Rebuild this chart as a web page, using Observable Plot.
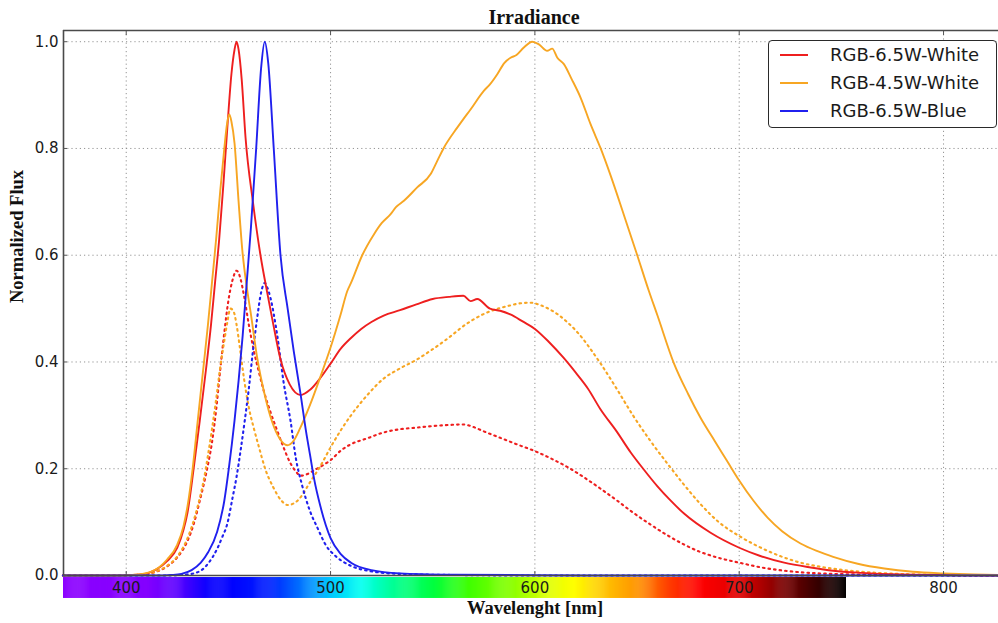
<!DOCTYPE html>
<html>
<head>
<meta charset="utf-8">
<script src="https://cdn.jsdelivr.net/npm/d3@7"></script>
<script src="https://cdn.jsdelivr.net/npm/@observablehq/plot@0.6"></script>
<style>
  body { margin: 0; background: #fff; }
  #wrap { position: relative; width: 998px; height: 623px; overflow: hidden; }
  .legend { position: absolute; left: 768px; top: 40px; width: 229px; height: 88px;
            border: 1.4px solid #2a2a2a; border-radius: 4px; background: #fff; box-sizing: border-box;
            font-family: "DejaVu Sans"; font-size: 18px; color: #1a1a1a; }
  .legend .sw { position: absolute; left: 11px; width: 28px; height: 0; border-top: 2px solid; }
  .legend .lb { position: absolute; left: 61px; line-height: 20px; white-space: nowrap; }
</style>
</head>
<body>
<div id="wrap"></div>
<script>
// ---------- data (wavelength nm, normalized flux) ----------
const red65White = [[369,0],[395,0],[402,0.001],[407,0.002],[411,0.005],[415,0.012],[420,0.027],[425,0.052],[428,0.085],[430,0.118],[433,0.2],[436,0.29],[439,0.385],[441.5,0.47],[443.5,0.55],[445.5,0.63],[447.5,0.73],[449.5,0.84],[451.5,0.94],[453,0.985],[454,1.0],[455,0.985],[456.5,0.93],[458.4,0.82],[462,0.7],[465.7,0.6],[469,0.53],[472,0.47],[475.5,0.405],[480,0.358],[485.4,0.338],[490,0.348],[495,0.37],[500,0.397],[505,0.425],[510,0.445],[515,0.462],[520,0.475],[526,0.487],[534,0.497],[542,0.508],[550,0.518],[558,0.522],[565,0.524],[568.5,0.514],[571.8,0.518],[578,0.5],[583,0.496],[588,0.489],[594,0.476],[600,0.462],[607,0.437],[614,0.408],[620,0.38],[626,0.35],[632,0.312],[640,0.27],[647,0.23],[653,0.2],[660,0.167],[666,0.142],[673,0.116],[686,0.08],[700,0.052],[710,0.037],[722,0.024],[735,0.015],[746,0.009],[760,0.005],[779,0.002],[800,0.001],[827,0]];
const orange45White = [[369,0],[398,0],[403,0.001],[408,0.003],[412,0.007],[416,0.015],[420,0.03],[425,0.058],[428,0.092],[430,0.13],[432.5,0.2],[435,0.29],[437.5,0.38],[440,0.47],[442,0.55],[444,0.63],[446,0.72],[448,0.8],[449.3,0.845],[450.4,0.864],[451.5,0.85],[453,0.81],[455,0.7],[456.8,0.61],[459.2,0.535],[461,0.49],[464,0.41],[468,0.335],[471.4,0.288],[475,0.257],[478.8,0.244],[482,0.253],[485,0.275],[490,0.32],[495,0.372],[500,0.427],[505,0.49],[508.2,0.533],[510,0.548],[515.5,0.6],[521.2,0.639],[525,0.66],[529.4,0.677],[532,0.69],[535.9,0.702],[542.4,0.727],[549,0.752],[552,0.775],[555.4,0.801],[562,0.839],[565,0.855],[568.5,0.873],[575,0.908],[578,0.92],[581.6,0.939],[585,0.96],[588.1,0.97],[591,0.975],[594.6,0.989],[598.7,1.0],[602,0.995],[606,0.983],[608.5,0.987],[611,0.97],[614.2,0.958],[618,0.93],[622.4,0.895],[627.3,0.845],[632.2,0.8],[637,0.75],[643.6,0.675],[650.1,0.6],[655.8,0.533],[660,0.487],[668,0.398],[675,0.34],[681,0.296],[688,0.252],[694,0.215],[700,0.178],[707,0.14],[714,0.108],[721,0.083],[730,0.06],[738,0.046],[746,0.035],[758,0.022],[771,0.013],[785,0.007],[800,0.004],[815,0.002],[827,0.001]];
const blue65Blue = [[369,0],[415,0],[422,0.001],[427,0.003],[432,0.01],[436.5,0.024],[440,0.043],[444.5,0.082],[448,0.14],[450.2,0.2],[453,0.29],[455,0.365],[457,0.45],[459,0.55],[461,0.65],[463.6,0.8],[466,0.95],[467.8,1.0],[469.5,0.96],[472.2,0.8],[475.5,0.6],[479,0.5],[482,0.42],[485.4,0.338],[488,0.27],[490,0.225],[492,0.18],[495,0.13],[500,0.07],[505,0.04],[510,0.024],[520,0.01],[534,0.004],[560,0.0015],[600,0.0005],[640,0],[827,0]];
const red65WhiteDot = [[369,0],[400,0],[405,0.001],[410,0.002],[413,0.005],[420,0.017],[425,0.034],[430,0.065],[433,0.096],[436,0.14],[439.6,0.2],[442,0.25],[444,0.31],[446,0.385],[448,0.455],[450,0.515],[452,0.553],[454,0.571],[456,0.555],[457.6,0.525],[460,0.47],[462.5,0.42],[465,0.38],[467.3,0.346],[470,0.313],[474,0.27],[477,0.24],[480,0.213],[483,0.195],[485.3,0.187],[488,0.189],[492,0.197],[496,0.206],[500,0.216],[505,0.234],[510,0.246],[518,0.257],[526,0.268],[534,0.274],[542,0.277],[550,0.28],[558,0.282],[565,0.283],[570,0.278],[575,0.27],[583,0.258],[591,0.246],[600,0.233],[608,0.219],[616,0.203],[624,0.184],[632,0.163],[640,0.141],[648,0.118],[656,0.097],[665,0.075],[673,0.058],[681,0.044],[690,0.033],[700,0.024],[711,0.015],[722,0.009],[746,0.003],[780,0.001],[827,0]];
const orange45WhiteDot = [[369,0],[400,0],[405,0.001],[410,0.003],[415,0.008],[420,0.018],[425,0.036],[430,0.07],[435,0.13],[438,0.18],[440,0.225],[442,0.275],[444,0.33],[446,0.39],[448,0.44],[449.5,0.475],[451,0.5],[452.5,0.495],[454,0.47],[455.5,0.43],[457.6,0.37],[460,0.315],[462.5,0.275],[465,0.24],[468,0.2],[472,0.165],[476,0.14],[479,0.132],[482,0.135],[485,0.145],[490,0.175],[495,0.205],[500,0.24],[505,0.272],[510,0.3],[518,0.338],[526,0.369],[534,0.388],[542,0.404],[550,0.424],[558,0.446],[566,0.47],[575,0.49],[582,0.5],[588,0.506],[593,0.51],[598,0.511],[603,0.506],[608,0.497],[612,0.487],[616,0.474],[620,0.459],[624,0.441],[628,0.42],[632,0.398],[640,0.35],[648,0.3],[656,0.255],[665,0.209],[673,0.17],[681,0.134],[690,0.1],[700,0.074],[714,0.046],[730,0.024],[742,0.015],[754,0.009],[779,0.003],[800,0.001],[827,0]];
const blue65BlueDot = [[369,0],[420,0],[430,0.002],[436,0.008],[440,0.022],[444.5,0.05],[447,0.072],[449.4,0.096],[452,0.145],[454,0.185],[456,0.235],[458,0.29],[460,0.35],[462,0.42],[464,0.48],[466,0.53],[467.8,0.548],[469,0.54],[470.6,0.52],[473.9,0.45],[477.1,0.36],[480.4,0.29],[483,0.22],[486,0.17],[490,0.12],[493.5,0.09],[498,0.055],[502,0.038],[510,0.018],[518,0.009],[534,0.003],[560,0.001],[600,0],[827,0]];

const seriesNames = ["RGB-6.5W-White", "RGB-4.5W-White", "RGB-6.5W-Blue"];
const seriesColors = ["#ee1f1f", "#f7a623", "#2020ee"];
const xTicks = [400, 500, 600, 700, 800];
const yTicks = [0.0, 0.2, 0.4, 0.6, 0.8, 1.0];
// wavelength colour bar stops
const barStops = [370, 410, 425, 440, 450, 470, 485, 500, 515, 530, 550, 568, 590, 607, 619, 635, 651, 665, 680, 700, 720, 740, 752.5];
const barColors = ["#8c00ff", "#8400ff", "#5a00ff", "#0a00ff", "#0000ff", "#0020ff", "#0070ff", "#00c8ff", "#00fff0", "#00ff98", "#00ff40", "#40ff00", "#90ff00", "#e0ff00", "#ffff00", "#ffc000", "#ff9000", "#ff4000", "#ff0000", "#e00000", "#800000", "#300000", "#000000"];

// ---------- layout ----------
const X_DOMAIN = [369.3, 826.9];
const Y_TOP = 1.021;
const BAR_Y = [-0.0038, -0.0430];

const toRows = (arr) => arr.map(([nm, v]) => ({nm, v}));
const solid = [red65White, orange45White, blue65Blue].map(toRows);
const dotted = [red65WhiteDot, orange45WhiteDot, blue65BlueDot].map(toRows);

const barColor = d3.scaleLinear().domain(barStops).range(barColors).clamp(true);
const barEnd = barStops[barStops.length - 1];
const barCells = d3.range(X_DOMAIN[0], barEnd, 0.5).map(a => ({a, b: Math.min(a + 0.7, barEnd), c: barColor(a)}));

const gridStyle = {stroke: "#8a8a8a", strokeOpacity: 0.9, strokeWidth: 1, strokeDasharray: "1.2,3"};
const serif = "Liberation Serif";

const marks = [
  Plot.gridX(xTicks, gridStyle),
  Plot.gridY(yTicks, gridStyle),
];
dotted.forEach((rows, i) => marks.push(Plot.line(rows, {x: "nm", y: "v", stroke: seriesColors[i], strokeWidth: 2.1, strokeDasharray: "1.6,4", curve: "monotone-x"})));
solid.forEach((rows, i) => marks.push(Plot.line(rows, {x: "nm", y: "v", stroke: seriesColors[i], strokeWidth: 1.9, curve: "monotone-x"})));
marks.push(
  Plot.rect(barCells, {x1: "a", x2: "b", y1: BAR_Y[0], y2: BAR_Y[1], fill: "c"}),
  Plot.ruleY([0, Y_TOP], {stroke: "#4a4a4a", strokeWidth: 1.6}),
  Plot.ruleX([X_DOMAIN[0]], {stroke: "#4a4a4a", strokeWidth: 1.6}),
  Plot.axisX(xTicks, {anchor: "top", tickSize: 4, dy: 4, tickFormat: () => "", label: null, stroke: "#555"}),
  Plot.axisX(xTicks, {anchor: "bottom", tickSize: 4, dy: -4, tickFormat: () => "", label: null, stroke: "#555"}),
  Plot.axisY(yTicks, {anchor: "left", tickSize: 4, dx: 4, tickFormat: () => "", label: null, stroke: "#555"}),
  Plot.axisX(xTicks, {anchor: "bottom", tickSize: 0, tickPadding: 7, fontSize: 15, label: null, tickFormat: d3.format("d")}),
  Plot.axisY(yTicks, {anchor: "left", tickSize: 0, tickPadding: 5, fontSize: 15, label: null, tickFormat: d3.format(".1f")}),
  Plot.text(["Irradiance"], {frameAnchor: "top", lineAnchor: "middle", dy: -13, dx: 3, fontSize: 20, fontWeight: "bold", fontFamily: serif, fill: "#111"}),
  Plot.text(["Wavelenght [nm]"], {frameAnchor: "bottom", lineAnchor: "middle", dy: 33, dx: 4, fontSize: 18.5, fontWeight: "bold", fontFamily: serif, fill: "#111"}),
  Plot.text(["Normalized Flux"], {frameAnchor: "left", lineAnchor: "middle", dx: -46, rotate: -90, fontSize: 18.5, fontWeight: "bold", fontFamily: serif, fill: "#111"})
);

const chart = Plot.plot({
  width: 998, height: 623,
  marginLeft: 63, marginRight: 0, marginTop: 30, marginBottom: 48,
  x: {domain: X_DOMAIN},
  y: {domain: [0, Y_TOP]},
  color: {type: "identity"},
  style: {background: "white", color: "#1a1a1a", fontFamily: "DejaVu Sans", overflow: "visible"},
  marks
});

const wrap = document.getElementById("wrap");
wrap.appendChild(chart);

// legend
const legend = document.createElement("div");
legend.className = "legend";
seriesNames.forEach((name, i) => {
  const top = 14 + i * 27.8;
  const sw = document.createElement("div");
  sw.className = "sw";
  sw.style.top = (top - 1) + "px";
  sw.style.borderTopColor = seriesColors[i];
  const lb = document.createElement("div");
  lb.className = "lb";
  lb.style.top = (top - 10) + "px";
  lb.textContent = name;
  legend.appendChild(sw);
  legend.appendChild(lb);
});
wrap.appendChild(legend);
</script>
</body>
</html>
